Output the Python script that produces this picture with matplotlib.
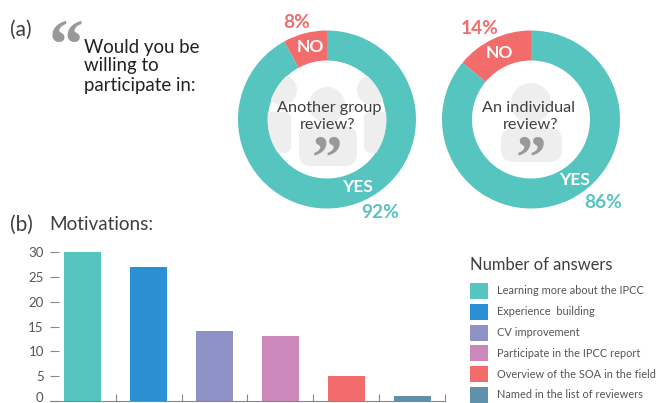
import matplotlib
matplotlib.use("Agg")
import matplotlib.pyplot as plt
from matplotlib.patches import Circle, FancyBboxPatch
from matplotlib.transforms import Affine2D

# Data
pie_labels = ["NO", "YES"]
group_review = [8, 92]
individual_review = [14, 86]
motivations = [
    "Learning more about the IPCC",
    "Experience  building",
    "CV improvement",
    "Participate in the IPCC report",
    "Overview of the SOA in the field",
    "Named in the list of reviewers",
]
answers = [30, 27, 14, 13, 5, 1]
y_ticks = [0, 5, 10, 15, 20, 25, 30]

# Colours
teal = "#56c4bf"
red = "#f26c6c"
bar_colors = [teal, "#2a90d3", "#8e92c6", "#cc88ba", red, "#5f90ac"]
grey_light = "#eeeeee"
grey_quote = "#999999"
text_dark = "#3f3f3f"

W, H = 656, 403
plt.rcParams["font.family"] = ["Lato", "DejaVu Sans"]
fig = plt.figure(figsize=(W / 100, H / 100), dpi=100)


def px_axes(x0, y0, x1, y1):
    # axes from pixel box, y counted from the top
    return fig.add_axes([x0 / W, 1 - y1 / H, (x1 - x0) / W, (y1 - y0) / H])


def donut(cx, cy, values):
    ax = px_axes(cx - 90, cy - 90, cx + 90, cy + 90)
    ax.pie(values, colors=[red, teal], startangle=90, radius=89 / 90,
           wedgeprops={"width": 30 / 90, "linewidth": 0})
    ax.set_xlim(-1, 1)
    ax.set_ylim(-1, 1)
    ax.axis("off")


donut(327, 119.5, group_review)
donut(531, 119.5, individual_review)

# Overlay in pixel coordinates for text and the people icons
ov = fig.add_axes([0, 0, 1, 1])
ov.set_xlim(0, W)
ov.set_ylim(H, 0)
ov.axis("off")
ov.patch.set_alpha(0)


def person(cx, head_y, head_r, x0, x1, y0, y1, clip, r=9):
    head = Circle((cx, head_y), head_r, fc=grey_light, ec="none", zorder=1)
    body = FancyBboxPatch((x0 + r, y0 + r), x1 - x0 - 2 * r, y1 - y0 - 2 * r,
                          boxstyle=f"round,pad={r},rounding_size={r}",
                          fc=grey_light, ec="none", zorder=1)
    for p in (head, body):
        ov.add_patch(p)
        p.set_clip_path(clip)


clip1 = Circle((327, 119.5), 59.5, transform=ov.transData)
clip2 = Circle((531, 119.5), 59.5, transform=ov.transData)
person(282, 90, 15, 250, 291, 112, 153, clip1, r=7)
person(372, 90, 15, 364, 404, 112, 153, clip1, r=7)
person(327, 105, 18, 299, 357, 126, 166, clip1, r=12)
person(531, 103, 20, 501, 562, 128, 162, clip2, r=13)

dark = dict(color=text_dark, ha="center", va="center", zorder=3)
ov.text(329, 108, "Another group", fontsize=11.7, **dark)
ov.text(328, 125, "review?", fontsize=11.7, **dark)
ov.text(528, 108, "An individual", fontsize=11.7, **dark)
ov.text(531, 125, "review?", fontsize=11.7, **dark)

quote_font = ["Liberation Serif", "DejaVu Serif"]
ov.text(65.5, 43, "\u201c", fontsize=50, color=grey_quote, family=quote_font, weight="bold",
        ha="center", va="center_baseline", zorder=3)
for qx in (327, 531):
    ov.text(qx, 155, "\u201d", fontsize=44, color=grey_quote, family=quote_font, weight="bold",
            ha="center", va="center_baseline", zorder=3)

for no_xy, yes_xy, no_pct_xy, yes_pct_xy, vals in [
    ((310, 47), (358, 187), (297, 22), (380, 212), group_review),
    ((499, 53), (575, 180), (480, 29), (603, 203), individual_review),
]:
    ov.text(*no_xy, pie_labels[0], color="white", fontsize=12.5, weight="bold", ha="center", va="center", zorder=3)
    ov.text(*yes_xy, pie_labels[1], color="white", fontsize=12.5, weight="bold", ha="center", va="center", zorder=3)
    ov.text(*no_pct_xy, f"{vals[0]}%", color=red, fontsize=13.8, weight="bold", ha="center", va="center", zorder=3)
    ov.text(*yes_pct_xy, f"{vals[1]}%", color=teal, fontsize=13.8, weight="bold", ha="center", va="center", zorder=3)

# Headings
ov.text(10, 30, "(a)", fontsize=15, color=text_dark, va="center")
ov.text(10, 225, "(b)", fontsize=15, color=text_dark, va="center")
ov.text(49, 225, "Motivations:", fontsize=13.6, color=text_dark, va="center")
for ty, line in zip((47, 66, 85), ("Would you be", "willing to", "participate in:")):
    ov.text(84, ty, line, fontsize=13.4, color="#222222", va="center")

# Bar chart
ax = px_axes(50, 252.3, 445, 400.7)
xs = list(range(len(answers)))
ax.bar(xs, answers, width=0.56, color=bar_colors, zorder=2)
ax.set_xlim(-0.5, 5.5)
ax.set_ylim(0, 30)
ax.set_yticks(y_ticks)
ax.set_xticks([x + 0.5 for x in xs])
ax.set_xticklabels([])
ax.tick_params(axis="y", direction="in", length=6.5, width=0.8, color="#888888",
               labelcolor="#555555", labelsize=9.5, pad=4.5)
ax.tick_params(axis="x", direction="in", length=5, width=0.8, color="#888888")
for s in ("top", "right", "left"):
    ax.spines[s].set_visible(False)
ax.spines["bottom"].set_color("#888888")
ax.patch.set_alpha(0)
# keep the 0 label inside the canvas
zero_label = ax.get_yticklabels()[0]
zero_label.set_transform(zero_label.get_transform() + Affine2D().translate(0, 3.5))

# Legend
ov.text(470, 265, "Number of answers", fontsize=11.9, color=text_dark, va="center")
for i, (name, c) in enumerate(zip(motivations, bar_colors)):
    y = 291 + i * 20.8
    ov.add_patch(plt.Rectangle((470, y - 8), 17.5, 16, fc=c, ec="none"))
    ov.text(497, y, name, fontsize=7.9, color="#555555", va="center")

fig.savefig("out.png", dpi=100, facecolor="white")
